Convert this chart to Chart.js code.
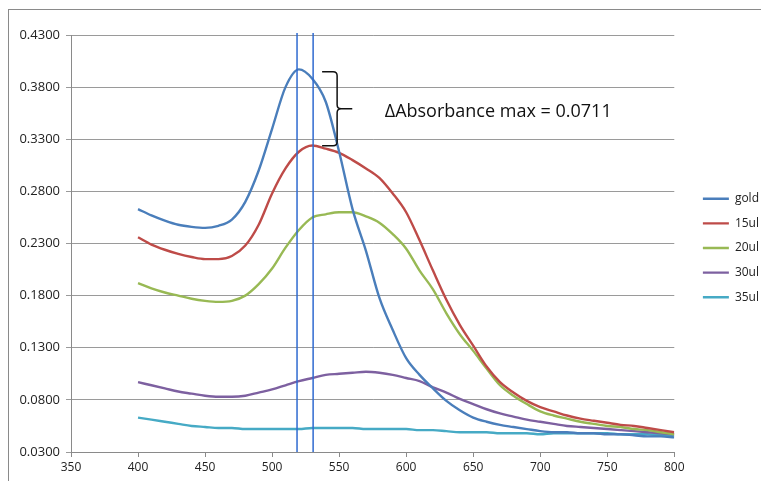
<!DOCTYPE html>
<html lang="en">
<head>
    <meta charset="UTF-8">
    <title>Absorbance spectra</title>
    <style>
        body {
            margin: 0;
            background: #ffffff;
        }
        #wrap {
            width: 761px;
            height: 481px;
        }
    </style>
    <script src="https://cdn.jsdelivr.net/npm/chart.js"></script>
</head>
<body>
    <div id="wrap">
        <canvas id="specChart" width="761" height="481"></canvas>
    </div>

    <script>
        // wavelength (nm)
        const wavelengths = [400, 410, 420, 430, 440, 450, 460, 470, 480, 490,
                             500, 510, 520, 530, 540, 550, 560, 570, 580, 590,
                             600, 610, 620, 630, 640, 650, 660, 670, 680, 690,
                             700, 710, 720, 730, 740, 750, 760, 770, 780, 790, 800];

        const gold = [0.263, 0.257, 0.252, 0.248, 0.246, 0.245, 0.247, 0.253, 0.270, 0.300,
                      0.340, 0.380, 0.397, 0.388, 0.366, 0.318, 0.263, 0.223, 0.178, 0.147,
                      0.120, 0.104, 0.091, 0.079, 0.070, 0.063, 0.059, 0.056, 0.054, 0.052,
                      0.050, 0.049, 0.049, 0.048, 0.048, 0.047, 0.047, 0.046, 0.045, 0.045, 0.044];

        const ul15 = [0.236, 0.229, 0.224, 0.220, 0.217, 0.215, 0.215, 0.218, 0.228, 0.248,
                      0.278, 0.302, 0.318, 0.324, 0.321, 0.317, 0.310, 0.302, 0.293, 0.278,
                      0.260, 0.233, 0.204, 0.176, 0.152, 0.132, 0.112, 0.097, 0.087, 0.079,
                      0.073, 0.069, 0.065, 0.062, 0.060, 0.058, 0.056, 0.055, 0.053, 0.051, 0.049];

        const ul20 = [0.192, 0.187, 0.183, 0.180, 0.177, 0.175, 0.174, 0.175, 0.180, 0.191,
                      0.206, 0.226, 0.243, 0.255, 0.258, 0.260, 0.260, 0.256, 0.250, 0.239,
                      0.225, 0.204, 0.186, 0.163, 0.143, 0.127, 0.110, 0.094, 0.084, 0.076,
                      0.069, 0.065, 0.062, 0.059, 0.057, 0.055, 0.054, 0.052, 0.051, 0.049, 0.047];

        const ul30 = [0.097, 0.094, 0.091, 0.088, 0.086, 0.084, 0.083, 0.083, 0.084, 0.087,
                      0.090, 0.094, 0.098, 0.101, 0.104, 0.105, 0.106, 0.107, 0.106, 0.104,
                      0.101, 0.098, 0.092, 0.087, 0.081, 0.076, 0.071, 0.067, 0.064, 0.061,
                      0.059, 0.057, 0.055, 0.054, 0.053, 0.052, 0.051, 0.050, 0.049, 0.048, 0.047];

        const ul35 = [0.063, 0.061, 0.059, 0.057, 0.055, 0.054, 0.053, 0.053, 0.052, 0.052,
                      0.052, 0.052, 0.052, 0.053, 0.053, 0.053, 0.053, 0.052, 0.052, 0.052,
                      0.052, 0.051, 0.051, 0.050, 0.049, 0.049, 0.049, 0.048, 0.048, 0.048,
                      0.047, 0.048, 0.048, 0.048, 0.048, 0.048, 0.047, 0.047, 0.047, 0.046, 0.046];

        const seriesNames = ['gold', '15ul', '20ul', '30ul', '35ul'];
        const seriesColors = ['#4a7ebb', '#be4b48', '#98b954', '#7d60a0', '#46aac5'];
        const yTickValues = [0.03, 0.08, 0.13, 0.18, 0.23, 0.28, 0.33, 0.38, 0.43];

        // peak markers and the delta bracket
        const peakLines = [518.6, 530.6];
        const bracketTop = 0.3948;
        const bracketBottom = 0.3237;
        const annotationText = '\u0394Absorbance max = 0.0711';

        const allSeries = [gold, ul15, ul20, ul30, ul35];

        const datasets = allSeries.map((vals, i) => ({
            label: seriesNames[i],
            data: wavelengths.map((w, j) => ({ x: w, y: vals[j] })),
            borderColor: seriesColors[i],
            backgroundColor: seriesColors[i],
            borderWidth: 2.4,
            pointRadius: 0,
            tension: 0.4,
            cubicInterpolationMode: 'monotone'
        }));

        const frame = {
            id: 'frame',
            afterLayout(chart) {
                // nudge legend to where the original sits
                const lg = chart.legend;
                lg.left += 16; lg.right += 16;
                lg.top -= 10; lg.bottom -= 10;
            },
            beforeDraw(chart) {
                const ctx = chart.ctx;
                ctx.save();
                ctx.fillStyle = '#ffffff';
                ctx.fillRect(0, 0, chart.width, chart.height);
                ctx.strokeStyle = '#8a8a8a';
                ctx.lineWidth = 1;
                ctx.strokeRect(8.5, 9.5, 900, 600);
                ctx.restore();
            }
        };

        const marks = {
            id: 'marks',
            afterDatasetsDraw(chart) {
                const ctx = chart.ctx;
                const xs = chart.scales.x;
                const ys = chart.scales.y;
                const area = chart.chartArea;
                ctx.save();

                // vertical peak lines
                ctx.strokeStyle = '#2f6ad0';
                ctx.lineWidth = 1.5;
                peakLines.forEach(w => {
                    const px = xs.getPixelForValue(w);
                    ctx.beginPath();
                    ctx.moveTo(px, area.top - 2);
                    ctx.lineTo(px, area.bottom);
                    ctx.stroke();
                });

                // curly bracket
                const xl = xs.getPixelForValue(537.3);
                const xm = xs.getPixelForValue(548.5);
                const xt = xs.getPixelForValue(559.8);
                const yt = ys.getPixelForValue(bracketTop);
                const yb = ys.getPixelForValue(bracketBottom);
                const ymid = (yt + yb) / 2;
                const r = 4;
                ctx.strokeStyle = '#111111';
                ctx.lineWidth = 1.5;
                ctx.beginPath();
                ctx.moveTo(xl, yt);
                ctx.lineTo(xm - r, yt);
                ctx.quadraticCurveTo(xm, yt, xm, yt + r);
                ctx.lineTo(xm, ymid - r);
                ctx.quadraticCurveTo(xm, ymid, xm + r, ymid);
                ctx.lineTo(xt, ymid);
                ctx.moveTo(xm + r, ymid);
                ctx.quadraticCurveTo(xm, ymid, xm, ymid + r);
                ctx.lineTo(xm, yb - r);
                ctx.quadraticCurveTo(xm, yb, xm - r, yb);
                ctx.lineTo(xl, yb);
                ctx.stroke();

                // label
                ctx.fillStyle = '#111111';
                ctx.font = '18px "Open Sans"';
                ctx.textBaseline = 'middle';
                ctx.fillText(annotationText, xs.getPixelForValue(584), ymid + 3);
                ctx.restore();
            }
        };

        new Chart(document.getElementById('specChart'), {
            type: 'line',
            data: { datasets: datasets },
            plugins: [frame, marks],
            options: {
                responsive: false,
                animation: false,
                layout: {
                    padding: { top: 35, right: 8, bottom: 0, left: 0 }
                },
                plugins: {
                    legend: {
                        position: 'right',
                        labels: {
                            usePointStyle: true,
                            pointStyle: 'line',
                            pointStyleWidth: 26,
                            padding: 12.6,
                            color: '#222',
                            font: { family: 'Open Sans', size: 12 }
                        }
                    },
                    tooltip: { enabled: false }
                },
                scales: {
                    x: {
                        type: 'linear',
                        min: 350,
                        max: 800,
                        ticks: {
                            stepSize: 50,
                            color: '#222',
                            padding: 3,
                            font: { family: 'Open Sans', size: 12 }
                        },
                        grid: {
                            drawOnChartArea: false,
                            color: '#8a8a8a',
                            tickLength: 5
                        },
                        border: { color: '#8a8a8a' },
                        afterFit(scale) { scale.height = 29; }
                    },
                    y: {
                        min: 0.03,
                        max: 0.43,
                        afterBuildTicks(axis) {
                            axis.ticks = yTickValues.map(v => ({ value: v }));
                        },
                        ticks: {
                            color: '#222',
                            padding: 6,
                            font: { family: 'Open Sans', size: 13 },
                            callback: v => Number(v).toFixed(4)
                        },
                        grid: {
                            color: '#9a9a9a',
                            tickLength: 5
                        },
                        border: { color: '#8a8a8a' },
                        afterFit(scale) { scale.width = 71; }
                    }
                }
            }
        });
    </script>
</body>
</html>
